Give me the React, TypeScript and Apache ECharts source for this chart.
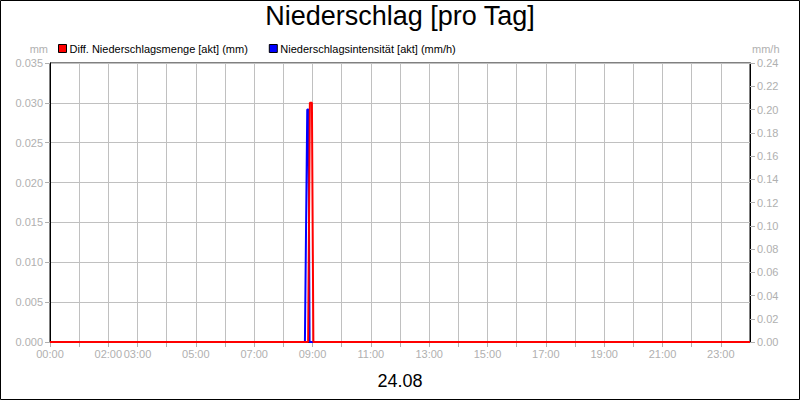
import { useEffect, useRef } from 'react';
import * as echarts from 'echarts';

// hours of the day (0..24) with values
const mengePoints: [number, number][] = [
  [0, 0],
  [8.85, 0],
  [8.91, 0.03],
  [8.98, 0.03],
  [9.03, 0],
  [24, 0],
];
const intensitaetPoints: [number, number][] = [
  [0, 0],
  [8.74, 0],
  [8.82, 0.2],
  [8.86, 0.2],
  [8.9, 0],
  [24, 0],
];
const hourLabels = [0, 2, 3, 5, 7, 9, 11, 13, 15, 17, 19, 21, 23];
const seriesNames = ['Diff. Niederschlagsmenge [akt] (mm)', 'Niederschlagsintensität [akt] (mm/h)'];

const FONT = '"Liberation Sans", Arial, sans-serif';
const GRID_GRAY = '#c0c0c0';
const LABEL_GRAY = '#b0b0b0';

export default function App() {
  const ref = useRef<HTMLDivElement | null>(null);

  useEffect(() => {
    if (!ref.current) return;
    const chart = echarts.init(ref.current, undefined, { renderer: 'svg' });
    chart.setOption({
      animation: false,
      backgroundColor: '#fff',
      textStyle: { fontFamily: FONT },
      title: {
        text: 'Niederschlag [pro Tag]',
        left: 'center',
        top: 2,
        padding: 0,
        textStyle: { fontSize: 27, fontWeight: 'normal', color: '#000', fontFamily: FONT },
      },
      legend: {
        left: 53,
        top: 38,
        itemWidth: 8,
        itemHeight: 8,
        itemGap: 21,
        icon: 'rect',
        itemStyle: { borderColor: '#000', borderWidth: 1 },
        textStyle: { fontSize: 11, color: '#000', fontFamily: FONT, padding: [0, 0, 0, -2] },
        data: seriesNames,
      },
      grid: {
        left: 50,
        right: 50,
        top: 63,
        bottom: 58,
        show: true,
        borderColor: '#000',
        borderWidth: 1,
        backgroundColor: 'transparent',
      },
      xAxis: {
        type: 'value',
        min: 0,
        max: 24,
        interval: 1,
        axisLine: { lineStyle: { color: '#000' } },
        axisTick: { show: true, length: 5, lineStyle: { color: LABEL_GRAY } },
        splitLine: { show: true, lineStyle: { color: GRID_GRAY } },
        axisLabel: {
          color: LABEL_GRAY,
          fontSize: 11,
          fontFamily: FONT,
          margin: 6,
          showMaxLabel: false,
          formatter: (v: number) => (hourLabels.includes(v) ? `${String(v).padStart(2, '0')}:00` : ''),
        },
        name: '24.08',
        nameLocation: 'middle',
        nameGap: 30,
        nameTextStyle: { fontSize: 18, color: '#000', fontFamily: FONT },
      },
      yAxis: [
        {
          type: 'value',
          min: 0,
          max: 0.035,
          interval: 0.005,
          name: 'mm',
          nameGap: 9,
          nameTextStyle: { color: LABEL_GRAY, fontSize: 11, fontFamily: FONT, align: 'right', padding: [0, 2, 0, 0] },
          axisLine: { show: true, lineStyle: { color: '#000' } },
          axisTick: { show: true, length: 5, lineStyle: { color: LABEL_GRAY } },
          splitLine: { show: true, lineStyle: { color: GRID_GRAY } },
          axisLabel: { color: LABEL_GRAY, fontSize: 11, fontFamily: FONT, margin: 7, formatter: (v: number) => v.toFixed(3) },
        },
        {
          type: 'value',
          min: 0,
          max: 0.24,
          interval: 0.02,
          name: 'mm/h',
          nameGap: 9,
          nameTextStyle: { color: LABEL_GRAY, fontSize: 11, fontFamily: FONT, align: 'left', padding: [0, 0, 0, 2] },
          axisLine: { show: true, lineStyle: { color: '#000' } },
          axisTick: { show: true, length: 5, lineStyle: { color: LABEL_GRAY } },
          splitLine: { show: false },
          axisLabel: { color: LABEL_GRAY, fontSize: 11, fontFamily: FONT, margin: 7, formatter: (v: number) => v.toFixed(2) },
        },
      ],
      series: [
        {
          name: seriesNames[0],
          type: 'line',
          data: mengePoints,
          yAxisIndex: 0,
          symbol: 'none',
          z: 4,
          color: '#ff0000',
          lineStyle: { color: '#ff0000', width: 2 },
        },
        {
          name: seriesNames[1],
          type: 'line',
          data: intensitaetPoints,
          yAxisIndex: 1,
          symbol: 'none',
          z: 3,
          color: '#0000ff',
          lineStyle: { color: '#0000ff', width: 2 },
        },
      ],
      graphic: [
        {
          type: 'rect',
          shape: { x: 0.5, y: 0.5, width: 799, height: 399 },
          style: { fill: 'none', stroke: '#000', lineWidth: 1 },
          silent: true,
        },
      ],
    });
    return () => chart.dispose();
  }, []);

  return <div ref={ref} style={{ position: 'fixed', left: 0, top: 0, width: 800, height: 400 }} />;
}
